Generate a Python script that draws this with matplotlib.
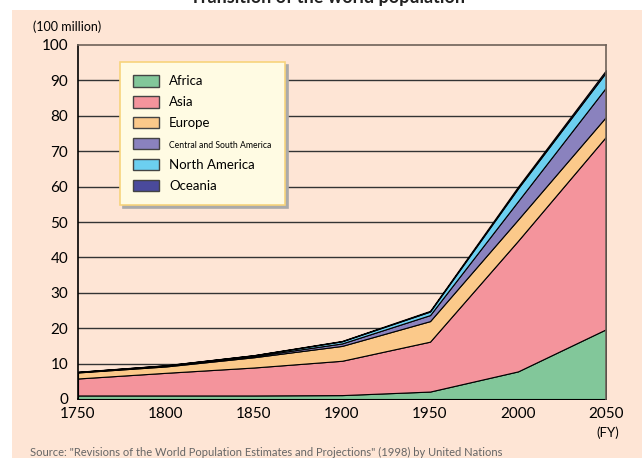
import numpy as np
import matplotlib
matplotlib.use('Agg')
from matplotlib import pyplot as plt
from matplotlib.patches import Rectangle

plt.rcParams['font.family'] = ['Lato', 'DejaVu Sans']

# population by region, 100 million people
years = [1750, 1800, 1850, 1900, 1950, 2000, 2050]
africa = [1.0, 1.0, 1.0, 1.1, 2.1, 7.8, 19.7]
asia = [4.8, 6.4, 7.9, 9.7, 14.1, 36.9, 54.4]
europe = [1.7, 1.8, 2.9, 4.2, 5.8, 6.0, 5.6]
latin_america = [0.1, 0.2, 0.3, 0.7, 1.7, 5.2, 8.3]
north_america = [0.05, 0.1, 0.25, 0.6, 1.0, 3.6, 4.3]
oceania = [0.05, 0.05, 0.05, 0.1, 0.2, 0.5, 0.6]

labels = ['Africa', 'Asia', 'Europe', 'Central and South America',
          'North America', 'Oceania']
colors = ['#82c79a', '#f4949c', '#fbc98a', '#8a82be', '#6ccff0', '#4a4a9c']
x_ticks = [1750, 1800, 1850, 1900, 1950, 2000, 2050]
y_ticks = list(range(0, 101, 10))

peach = '#fee5d5'

fig = plt.figure(figsize=(6.42, 4.58), dpi=100)
fig.patch.set_facecolor('white')
bg = Rectangle((12 / 642, 0), 1, 1 - 10 / 458, transform=fig.transFigure,
               facecolor=peach, edgecolor='none', zorder=-10)
fig.add_artist(bg)

# title is cut off at the top of the picture
fig.text(0.51, 1 - 3 / 458, 'Transition of the world population', ha='center',
         va='baseline', fontsize=13, fontweight='bold', color='#222222')

ax = fig.add_axes([78 / 642, 59 / 458, 528 / 642, 354 / 458])
ax.set_facecolor(peach)

polys = ax.stackplot(years, africa, asia, europe, latin_america, north_america, oceania,
                     colors=colors, labels=labels, edgecolor='black', linewidth=0.8,
                     zorder=3)

for v in y_ticks[1:-1]:
    ax.axhline(v, color='#333333', linewidth=1.0, zorder=1)

ax.set_xlim(1750, 2050)
ax.set_ylim(0, 100)
ax.set_xticks(x_ticks)
ax.set_yticks(y_ticks)
ax.tick_params(length=0, labelsize=11, pad=6)
ax.tick_params(axis='y', pad=7)
for s in ['left', 'bottom']:
    ax.spines[s].set_color('black')
    ax.spines[s].set_linewidth(1.2)
for s in ['top', 'right']:
    ax.spines[s].set_color('#6e6259')
    ax.spines[s].set_linewidth(1.2)
ax.spines['right'].set_zorder(5)

leg = ax.legend(loc='upper left', bbox_to_anchor=(0.08, 0.952), fontsize=9.5,
                frameon=True, fancybox=False, handlelength=1.95, handleheight=0.95,
                labelspacing=0.66, borderpad=1.0, handletextpad=0.76, borderaxespad=0,
                shadow={'color': '#aaaaaa', 'alpha': 1.0})
leg.get_frame().set_facecolor('#fffbe3')
leg.get_frame().set_edgecolor('#f7d47c')
leg.get_frame().set_linewidth(1.2)
leg.set_zorder(6)
for h in leg.legend_handles:
    h.set_edgecolor('#444444')
    h.set_linewidth(1.0)
leg.get_texts()[3].set_fontsize(6.2)

fig.text(33 / 642, 1 - 27 / 458, '(100 million)', fontsize=9, va='center', ha='left')
fig.text(608 / 642, 1 - 433 / 458, '(FY)', fontsize=9.5, va='center', ha='center')
fig.text(30 / 642, 1 - 452 / 458,
         'Source: "Revisions of the World Population Estimates and Projections" (1998) by United Nations',
         fontsize=8, va='center', ha='left', color='#666666')

fig.savefig('out.png', dpi=100, facecolor=fig.get_facecolor())
